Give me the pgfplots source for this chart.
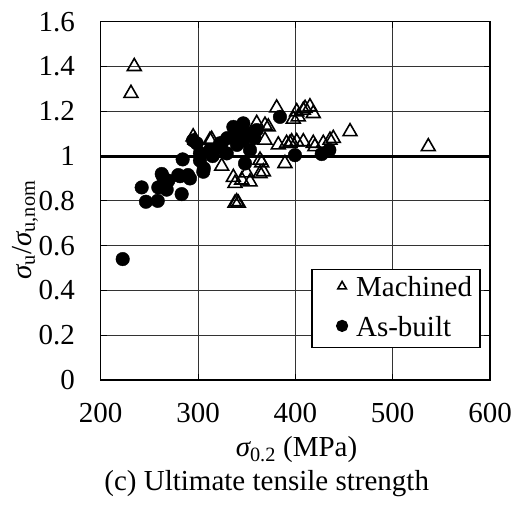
\documentclass[border=0pt]{standalone}
\usepackage{pgfplots}
\pgfplotsset{compat=1.18}
\usepackage{fontspec}
\setmainfont{Liberation Serif}

\newcommand{\chartfont}{\fontsize{29}{34}\selectfont}

\begin{document}
\chartfont
\begin{tikzpicture}
\begin{axis}[
  scale only axis,
  width=389.3pt, height=358.3pt,
  xmin=200, xmax=600, ymin=0, ymax=1.6,
  xtick={200,300,400,500,600},
  ytick={0,0.2,0.4,0.6,0.8,1,1.2,1.4,1.6},
  /pgf/number format/assume math mode=true,
  tick label style={font=\chartfont, inner sep=0pt},
  yticklabel style={xshift=-25.7pt},
  xticklabel style={yshift=-23pt},
  tick align=inside,
  major tick length=6pt,
  tick style={line width=1pt, black},
  grid=major,
  major grid style={line width=1pt, black!80},
  axis line style={line width=1.5pt, black},
  xlabel={{\itshape σ}\textsubscript{0.2} (MPa)},
  xlabel style={at={(axis description cs:0.503,-0.195)}, anchor=center, font=\chartfont},
  ylabel={{\itshape σ}\textsubscript{u}/{\itshape σ}\textsubscript{u,nom}},
  ylabel style={at={(axis description cs:-0.1945,0.4186)}, anchor=center, rotate=0, font=\chartfont},
  legend style={at={(axis description cs:0.976,0.0885)}, anchor=south east,
    draw=black, line width=1.2pt, fill=white, font=\chartfont,
    inner xsep=6pt, inner ysep=5pt, row sep=11pt},
  legend cell align=left,
]
  % nominal strength reference line
  \addplot[line width=3pt, black, forget plot] coordinates {(200,1) (600,1)};

  % machined specimens
  \addplot[only marks, mark=triangle, mark size=8pt,
    mark options={line width=1.6pt, draw=black, fill=white},
    legend image code/.code={\path[draw=none, fill=none] (0pt,0pt) rectangle (36pt,0pt);
      \draw[line width=1.2pt, fill=white]
      plot[mark=triangle, mark size=5pt] coordinates {(24pt,0.09cm)};}]
  table {
x y
234.5 1.40
231.1 1.28
296.9 1.071
295.0 1.086
312.3 1.071
314.0 1.075
324.3 0.955
336.3 0.905
338.0 0.878
338.0 0.790
341.4 0.790
339.7 0.796
344.9 0.893
350.0 0.925
353.4 0.885
363.7 0.922
367.1 0.930
365.4 0.970
363.7 0.982
355.2 1.086
360.3 1.146
368.8 1.138
372.2 1.130
368.8 1.071
380.8 1.215
382.5 1.050
389.3 0.967
391.0 1.057
394.5 1.057
396.2 1.064
397.9 1.165
401.4 1.198
401.4 1.064
403.0 1.175
408.2 1.205
408.2 1.064
410.0 1.213
415.0 1.220
418.4 1.190
418.4 1.057
420.1 1.042
428.7 1.057
435.6 1.071
439.0 1.079
456.2 1.109
536.6 1.042
  };
  \addlegendentry{Machined}

  % as-built specimens
  \addplot[only marks, mark=*, mark size=6.8pt,
    mark options={draw=black, fill=black},
    legend image code/.code={\path[draw=none, fill=none] (0pt,0pt) rectangle (36pt,0pt);
      \fill[black] (24pt,0.09cm) circle (5.5pt);}]
  table {
x y
222.6 0.540
242.1 0.860
246.5 0.796
258.6 0.800
259.2 0.860
262.7 0.920
264.3 0.905
267.8 0.850
269.5 0.890
279.7 0.915
281.5 0.910
283.2 0.830
284.2 0.985
289.7 0.915
291.7 0.900
302.0 0.980
302.0 1.012
305.4 0.930
306.0 0.945
295.0 1.070
298.6 1.057
312.3 1.027
315.0 1.000
318.0 1.030
322.6 1.057
324.3 1.057
329.5 1.012
330.0 1.080
336.3 1.130
339.7 1.100
340.0 1.050
346.5 1.146
346.5 1.070
348.3 0.967
350.0 1.100
353.4 1.027
358.0 1.080
360.3 1.116
384.2 1.175
399.6 1.004
427.1 1.009
434.9 1.027
  };
  \addlegendentry{As-built}

  \coordinate (O) at (rel axis cs:0,0);
\end{axis}
% caption under the plot
\node[font=\chartfont, anchor=center] at ([shift={(166pt,-104pt)}]O) {(c) Ultimate tensile strength};
% page frame
\path ([shift={(-100.7pt,-122pt)}]O) rectangle ++(513pt,502pt);
\end{tikzpicture}
\end{document}
